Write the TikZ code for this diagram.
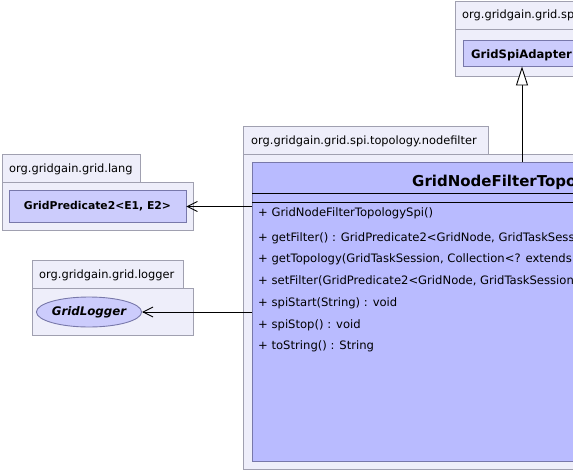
\documentclass[tikz,border=0pt]{standalone}
\usepackage{fontspec}
\setmainfont{DejaVu Sans}
\usetikzlibrary{arrows.meta,shapes.geometric}
\definecolor{pkgfill}{RGB}{238,238,250}
\definecolor{pkgline}{RGB}{160,160,176}
\definecolor{clsfill}{RGB}{185,187,255}
\definecolor{clsfillb}{RGB}{204,204,252}
\definecolor{clsline}{RGB}{120,120,170}
\tikzset{
  pkg/.style={draw=pkgline, fill=pkgfill, line width=0.9pt},
  pkglabel/.style={anchor=base west, inner sep=0pt, font=\fontsize{11.4}{13}\selectfont},
  cls/.style={draw=clsline, fill=clsfill, line width=0.9pt, inner sep=0pt},
  clsb/.style={draw=clsline, fill=clsfillb, line width=0.9pt, inner sep=0pt},
  meth/.style={anchor=base west, inner sep=0pt, font=\fontsize{11.6}{13}\selectfont},
  dep/.style={draw=black, line width=0.9pt, -{Straight Barb[length=10pt,width=10pt,line width=0.9pt]}},
  inh/.style={draw=black, line width=0.9pt, -{Triangle[open,length=19pt,width=12pt,line width=0.9pt,fill=white]}}
}
\begin{document}
\begin{tikzpicture}[x=1pt,y=-1pt]
\useasboundingbox (0,0) rectangle (573,471);
\clip (0,0) rectangle (573,471);
\fill[white] (0,0) rectangle (573,471);

% package org.gridgain.grid.spi
\draw[pkg] (455,1) rectangle (600,29);
\draw[pkg] (455,29) rectangle (620,76);
\node[pkglabel] (pspi) at (462,19) {org.gridgain.grid.spi};
\node[clsb, minimum width=147pt, minimum height=26pt] (spi) at (536.5,53) {};
\node[anchor=base west, inner sep=0pt, font=\fontsize{11.6}{13}\selectfont\bfseries] (spit) at (471,58) {GridSpiAdapter};

% package org.gridgain.grid.spi.topology.nodefilter
\draw[pkg] (243,126) rectangle (488,154);
\draw[pkg] (243,154) rectangle (620,469);
\node[pkglabel] (pnf) at (251,144) {org.gridgain.grid.spi.topology.nodefilter};
\node[cls, minimum width=448pt, minimum height=299pt] (cls) at (476,311.5) {};
\node[anchor=base west, inner sep=0pt, font=\fontsize{15}{17}\selectfont\bfseries] (title) at (412,186) {GridNodeFilterTopologySpi};
\coordinate (l1a) at (252,193);
\coordinate (l2a) at (252,202);
\draw[black, line width=0.9pt] (l1a) -- (cls.east |- l1a);
\draw[black, line width=0.9pt] (l2a) -- (cls.east |- l2a);
\node[meth] (m0) at (258,216.5) {+ GridNodeFilterTopologySpi()};
\node[meth] (m1) at (258,241.5) {+ getFilter() : GridPredicate2<GridNode, GridTaskSession>};
\node[meth] (m2) at (258,262.5) {+ getTopology(GridTaskSession, Collection<? extends GridNode>)};
\node[meth] (m3) at (258,284.5) {+ setFilter(GridPredicate2<GridNode, GridTaskSession>)};
\node[meth] (m4) at (258,306.5) {+ spiStart(String) : void};
\node[meth] (m5) at (258,328.5) {+ spiStop() : void};
\node[meth] (m6) at (258,349.5) {+ toString() : String};

% package org.gridgain.grid.lang
\draw[pkg] (2,154) rectangle (140,182);
\draw[pkg] (2,182) rectangle (193,230);
\node[pkglabel] (plang) at (9,172) {org.gridgain.grid.lang};
\node[clsb, minimum width=177pt, minimum height=32pt, font=\fontsize{10.8}{13}\selectfont\bfseries] (gp) at (97.5,206.5) {GridPredicate2<E1, E2>};

% package org.gridgain.grid.logger
\draw[pkg] (32,260) rectangle (183,288);
\draw[pkg] (32,288) rectangle (193,335);
\node[pkglabel] (plog) at (39,278) {org.gridgain.grid.logger};
\node[ellipse, clsb, minimum width=98pt, minimum height=30pt, font=\fontsize{11.8}{13}\selectfont\bfseries\itshape] (gl) at (89,312) {GridLogger};

% connectors
\draw[dep] (cls.west |- gp.east) -- (gp.east);
\draw[dep] (cls.west |- gl.east) -- (gl.east);
\coordinate (up) at (522,162);
\draw[inh] (up) -- (spi.south -| up);
\end{tikzpicture}
\end{document}
